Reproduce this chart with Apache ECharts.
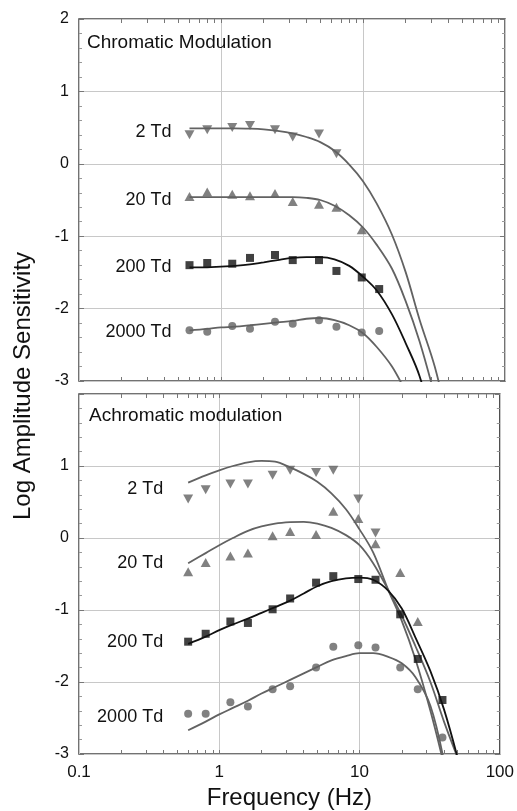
<!DOCTYPE html>
<html>
<head>
<meta charset="utf-8">
<script src="https://cdn.jsdelivr.net/npm/echarts@6/dist/echarts.min.js"></script>
<style>
  html, body { margin: 0; padding: 0; background: #fff; }
  #chart { width: 517px; height: 811px; }
</style>
</head>
<body>
<div id="chart"></div>
<script>
// stimulus frequencies (Hz)
const freqs = [0.6, 0.8, 1.2, 1.6, 2.4, 3.2, 4.9, 6.5, 9.8, 13, 19.5, 26, 39]

// chromatic modulation, measured points
const chr2 = [0.40, 0.47, 0.50, 0.53, 0.47, 0.37, 0.41, 0.14]
const chr20 = [-0.45, -0.39, -0.42, -0.44, -0.41, -0.52, -0.56, -0.60, -0.91]
const chr200 = [-1.40, -1.37, -1.38, -1.30, -1.26, -1.33, -1.33, -1.48, -1.57, -1.73]
const chr2000 = [-2.30, -2.32, -2.24, -2.28, -2.18, -2.21, -2.16, -2.25, -2.33, -2.31]

// achromatic modulation, measured points
const ach2 = [0.54, 0.67, 0.75, 0.75, 0.87, 0.94, 0.91, 0.94, 0.54, 0.07]
const ach20 = [-0.47, -0.34, -0.25, -0.21, 0.03, 0.09, 0.05, 0.37, 0.27, -0.08, -0.48, -1.16]
const ach200 = [-1.44, -1.33, -1.16, -1.18, -0.99, -0.84, -0.62, -0.53, -0.57, -0.58, -1.06, -1.68, -2.25]
const ach2000 = [-2.44, -2.44, -2.28, -2.34, -2.10, -2.06, -1.80, -1.51, -1.49, -1.52, -1.80, -2.10, -2.77]

const fitF = [0.6, 0.8, 1.0, 1.25, 1.6, 2.0, 2.5, 3.2, 4, 5, 6.3, 8, 10, 12.5, 16, 20, 25, 32, 40, 50]

// chromatic modulation, fitted curves (read at fitF, last value = where it leaves the plot)
const chrFit2 = [0.49, 0.49, 0.49, 0.49, 0.485, 0.475, 0.455, 0.42, 0.37, 0.30, 0.18, -0.01, -0.24, -0.55, -0.98, -1.5, -2.15, -2.8, -3.6]
const chrFit20 = [-0.46, -0.46, -0.46, -0.46, -0.46, -0.46, -0.46, -0.46, -0.47, -0.5, -0.58, -0.71, -0.88, -1.12, -1.45, -1.9, -2.45, -3.2]
const chrFit200 = [-1.43, -1.43, -1.42, -1.41, -1.39, -1.36, -1.33, -1.30, -1.29, -1.29, -1.32, -1.41, -1.56, -1.75, -2.08, -2.48, -2.93, -3.7]
const chrFit2000 = [-2.3, -2.28, -2.26, -2.25, -2.23, -2.21, -2.19, -2.17, -2.14, -2.13, -2.16, -2.23, -2.34, -2.53, -2.8, -3.15]

// achromatic modulation, fitted curves
const achFit2 = [0.77, 0.87, 0.94, 1.0, 1.05, 1.07, 1.06, 0.98, 0.89, 0.78, 0.62, 0.4, 0.12, -0.2, -0.72, -1.15, -1.68, -2.4, -3.15]
const achFit20 = [-0.35, -0.21, -0.1, 0.0, 0.1, 0.16, 0.2, 0.22, 0.225, 0.2, 0.14, 0.04, -0.1, -0.35, -0.72, -1.08, -1.5, -2.0, -2.55, -3.05]
const achFit200 = [-1.47, -1.37, -1.28, -1.2, -1.12, -1.04, -0.96, -0.87, -0.77, -0.67, -0.6, -0.56, -0.55, -0.58, -0.73, -0.98, -1.38, -1.85, -2.38, -3.05]
const achFit2000 = [-2.67, -2.55, -2.45, -2.36, -2.26, -2.16, -2.07, -1.97, -1.88, -1.79, -1.7, -1.64, -1.6, -1.6, -1.65, -1.74, -1.93, -2.33, -3.1]

// tick positions on the log frequency axis
const xTicks = [0.2, 0.3, 0.4, 0.5, 0.6, 0.7, 0.8, 0.9, 1, 2, 3, 4, 5, 6, 7, 8, 9, 10, 20, 30, 40, 50, 60, 70, 80, 90]

const font = "'Liberation Sans', Arial, Helvetica, sans-serif"
const gray = "#626262"
const black = "#111"

const chart = echarts.init(document.getElementById("chart"))

const pair = (xs, ys) => ys.map((y, i) => [xs[i], y])

function markers(xs, ys, symbol, rotate, size, color, xi, yi) {
  return {
    type: "scatter",
    xAxisIndex: xi,
    yAxisIndex: yi,
    symbol: symbol,
    symbolRotate: rotate,
    symbolSize: size,
    itemStyle: { color: color },
    data: pair(xs, ys),
    z: 3,
  }
}

function fit(xs, ys, color, xi, yi, text, dist, dy) {
  const data = pair(xs, ys)
  data[0] = {
    value: data[0],
    label: {
      show: true,
      formatter: text,
      position: "left",
      distance: dist,
      offset: [0, dy],
      color: "#111",
      fontSize: 18,
      fontFamily: font,
    },
  }
  return {
    type: "line",
    xAxisIndex: xi,
    yAxisIndex: yi,
    smooth: 0.35,
    symbol: "circle",
    symbolSize: 0,
    lineStyle: { color: color, width: 1.8 },
    itemStyle: { color: color },
    data: data,
    z: 2,
  }
}

function xAxes(gridIndex, showLabels) {
  const base = {
    type: "log",
    logBase: 10,
    min: 0.1,
    max: 100,
    gridIndex: gridIndex,
    axisLine: { show: false, onZero: false },
    axisLabel: { show: false },
    splitLine: { show: false },
  }
  return [
    {
      ...base,
      position: "bottom",
      axisTick: { show: false },
      splitLine: { show: true, lineStyle: { color: "#c8c8c8", width: 1 } },
      axisLabel: { show: showLabels, color: "#111", fontSize: 17, fontFamily: font, margin: 10 },
      name: showLabels ? "Frequency (Hz)" : "",
      nameLocation: "middle",
      nameGap: 32,
      nameTextStyle: { color: "#111", fontSize: 24, fontFamily: font },
    },
    { ...base, position: "bottom", axisTick: { inside: true, length: 4, customValues: xTicks, lineStyle: { color: "#777" } } },
    { ...base, position: "top", axisTick: { inside: true, length: 4, customValues: xTicks, lineStyle: { color: "#777" } } },
  ]
}

function yAxes(gridIndex, hideTop) {
  const base = {
    type: "value",
    min: -3,
    max: 2,
    interval: 1,
    gridIndex: gridIndex,
    axisLine: { show: false },
    axisTick: { inside: true, length: 5, lineStyle: { color: "#777" } },
    minorTick: { show: true, splitNumber: 5, length: 3, lineStyle: { color: "#999" } },
  }
  return [
    {
      ...base,
      position: "left",
      splitLine: { show: true, lineStyle: { color: "#c8c8c8", width: 1 } },
      axisLabel: {
        color: "#111",
        fontSize: 16,
        fontFamily: font,
        margin: 10,
        formatter: (v) => (hideTop && v === 2 ? "" : String(v)),
      },
    },
    { ...base, position: "right", splitLine: { show: false }, axisLabel: { show: false } },
  ]
}

const titleStyle = { fontSize: 19, fontWeight: "normal", color: "#111", fontFamily: font }

const option = {
  animation: false,
  backgroundColor: "#fff",
  textStyle: { fontFamily: font },
  title: [
    { text: "Chromatic Modulation", left: 87, top: 33, padding: 0, textStyle: titleStyle },
    { text: "Achromatic modulation", left: 89, top: 406, padding: 0, textStyle: titleStyle },
  ],
  graphic: [
    {
      type: "text",
      x: 23,
      y: 386,
      rotation: Math.PI / 2,
      style: { text: "Log Amplitude Sensitivity", fontSize: 24, fontFamily: font, fill: "#111", align: "center", verticalAlign: "middle" },
    },
  ],
  grid: [
    { left: 79, top: 19, width: 426, height: 362, show: true, borderColor: "#444", borderWidth: 1.5, backgroundColor: "transparent" },
    { left: 79, top: 394, width: 424, height: 360, show: true, borderColor: "#444", borderWidth: 1.5, backgroundColor: "transparent" },
  ],
  xAxis: [...xAxes(0, false), ...xAxes(1, true)],
  yAxis: [...yAxes(0, false), ...yAxes(1, true)],
  series: [
    // chromatic
    fit(fitF, chrFit2, gray, 0, 0, "2 Td", 18, 4),
    fit(fitF, chrFit20, gray, 0, 0, "20 Td", 18, 3),
    fit(fitF, chrFit200, black, 0, 0, "200 Td", 18, 0),
    fit(fitF, chrFit2000, gray, 0, 0, "2000 Td", 18, 2),
    markers(freqs, chr2, "triangle", 180, [10, 9], gray, 0, 0),
    markers(freqs, chr20, "triangle", 0, [10, 9], gray, 0, 0),
    markers(freqs, chr200, "rect", 0, 8, black, 0, 0),
    markers(freqs, chr2000, "circle", 0, 8, gray, 0, 0),
    // achromatic
    fit(fitF, achFit2, gray, 3, 2, "2 Td", 25, 6),
    fit(fitF, achFit20, gray, 3, 2, "20 Td", 25, 0),
    fit(fitF, achFit200, black, 3, 2, "200 Td", 25, -2),
    fit(fitF, achFit2000, gray, 3, 2, "2000 Td", 25, -13),
    markers(freqs, ach2, "triangle", 180, [10, 9], gray, 3, 2),
    markers(freqs, ach20, "triangle", 0, [10, 9], gray, 3, 2),
    markers(freqs, ach200, "rect", 0, 8, black, 3, 2),
    markers(freqs, ach2000, "circle", 0, 8, gray, 3, 2),
  ],
}

chart.setOption(option)
</script>
</body>
</html>
